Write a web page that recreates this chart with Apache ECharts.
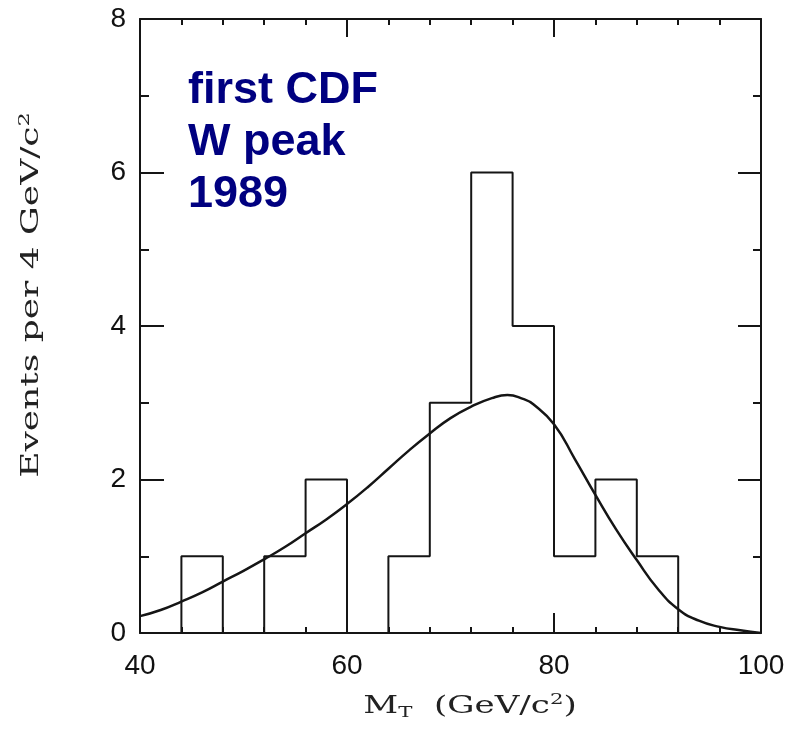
<!DOCTYPE html>
<html>
<head>
<meta charset="utf-8">
<script src="https://cdn.jsdelivr.net/npm/echarts@6/dist/echarts.min.js"></script>
<style>html,body{margin:0;padding:0;background:#fff;}#c{width:788px;height:732px;}</style>
</head>
<body>
<div id="c"></div>
<script>
// Histogram: left bin edges (GeV/c^2) and event counts per 4 GeV/c^2
var binLeft = [44, 48, 52, 56, 60, 64, 68, 72, 76, 80, 84, 88];
var binWidth = 4;
var counts = [1, 0, 1, 2, 0, 1, 3, 6, 4, 1, 2, 1];

// Fitted curve (expected shape)
var curveX = [40, 42, 44, 46, 48, 50, 52, 54, 56, 58, 60, 62, 64, 66, 68, 70, 72, 74, 75.5, 77, 78, 80, 82, 84, 86, 88, 90, 92, 94, 96, 98, 100];
var curveY = [0.22, 0.30, 0.41, 0.53, 0.67, 0.81, 0.96, 1.12, 1.30, 1.48, 1.68, 1.90, 2.14, 2.38, 2.60, 2.80, 2.95, 3.06, 3.10, 3.05, 2.98, 2.72, 2.27, 1.80, 1.35, 0.95, 0.58, 0.31, 0.16, 0.08, 0.035, 0.0];

var xTicks = [40, 60, 80, 100];
var yTicks = [0, 2, 4, 6, 8];

var histData = [[binLeft[0], 0]];
for (var i = 0; i < counts.length; i++) histData.push([binLeft[i] + binWidth, counts[i]]);
histData.push([binLeft[binLeft.length - 1] + binWidth, 0]);

var curveData = curveX.map(function (x, i) { return [x, curveY[i]]; });

var ink = '#151515';
var axisCommon = {
  axisLine: { show: true, onZero: false, lineStyle: { color: ink, width: 2 } },
  splitLine: { show: false }
};

var chart = echarts.init(document.getElementById('c'), null, { renderer: 'canvas' });
chart.setOption({
  backgroundColor: '#ffffff',
  animation: false,
  grid: { left: 140, right: 27, top: 19, bottom: 99, containLabel: false },
  xAxis: [
    Object.assign({
      type: 'value', position: 'bottom', min: xTicks[0], max: xTicks[xTicks.length - 1], interval: 20,
      axisTick: { show: true, inside: true, length: 20, lineStyle: { color: ink, width: 2 } },
      minorTick: { show: true, splitNumber: 5, length: 6, lineStyle: { color: ink, width: 2 } },
      axisLabel: { show: true, margin: 19, color: '#111', fontSize: 28, fontFamily: '"Liberation Sans", Arial, sans-serif' }
    }, axisCommon),
    Object.assign({
      type: 'value', position: 'top', min: xTicks[0], max: xTicks[xTicks.length - 1], interval: 20,
      axisTick: { show: true, inside: true, length: 18, lineStyle: { color: ink, width: 2 } },
      minorTick: { show: true, splitNumber: 5, length: 6, lineStyle: { color: ink, width: 2 } },
      axisLabel: { show: false }
    }, axisCommon)
  ],
  yAxis: [
    Object.assign({
      type: 'value', position: 'left', min: yTicks[0], max: yTicks[yTicks.length - 1], interval: 2,
      axisTick: { show: true, inside: true, length: 24, lineStyle: { color: ink, width: 2 } },
      minorTick: { show: true, splitNumber: 2, length: 9, lineStyle: { color: ink, width: 2 } },
      axisLabel: { show: true, margin: 14, color: '#111', fontSize: 28, fontFamily: '"Liberation Sans", Arial, sans-serif' }
    }, axisCommon),
    Object.assign({
      type: 'value', position: 'right', min: yTicks[0], max: yTicks[yTicks.length - 1], interval: 2,
      axisTick: { show: true, inside: true, length: 23, lineStyle: { color: ink, width: 2 } },
      minorTick: { show: true, splitNumber: 2, length: 8, lineStyle: { color: ink, width: 2 } },
      axisLabel: { show: false }
    }, axisCommon)
  ],
  series: [
    {
      type: 'line', name: 'data', data: histData, step: 'start', showSymbol: false, symbol: 'none',
      lineStyle: { color: ink, width: 2 }, z: 3
    },
    {
      type: 'line', name: 'fit', data: curveData, smooth: 0.5, showSymbol: false, symbol: 'none',
      lineStyle: { color: ink, width: 2.5 }, z: 4
    }
  ],
  graphic: [
    {
      type: 'text', x: 188, y: 65,
      style: {
        text: 'first CDF\nW peak\n1989',
        fill: '#000080',
        font: 'bold 45px "Liberation Sans", Arial, sans-serif',
        lineHeight: 52,
        align: 'left', verticalAlign: 'top'
      }
    },
    {
      type: 'text', x: 32, y: 295, rotation: Math.PI / 2, scaleX: 1.5, scaleY: 1,
      style: {
        text: 'Events per 4 GeV/c{sup|2}',
        fill: '#222',
        font: '24px "DejaVu Serif", serif',
        align: 'center', verticalAlign: 'middle',
        rich: {
          sup: { fontSize: 15, fontFamily: '"DejaVu Serif", serif', verticalAlign: 'top', fill: '#222', lineHeight: 28 }
        }
      }
    },
    {
      type: 'text', x: 470, y: 707, scaleX: 1.42, scaleY: 1,
      style: {
        text: 'M{sub|T}  (GeV/c{sup|2})',
        fill: '#222',
        font: '24px "DejaVu Serif", serif',
        align: 'center', verticalAlign: 'middle',
        rich: {
          sub: { fontSize: 15, fontFamily: '"DejaVu Serif", serif', verticalAlign: 'bottom', fill: '#222', lineHeight: 28 },
          sup: { fontSize: 15, fontFamily: '"DejaVu Serif", serif', verticalAlign: 'top', fill: '#222', lineHeight: 28 }
        }
      }
    }
  ]
});
</script>
</body>
</html>
